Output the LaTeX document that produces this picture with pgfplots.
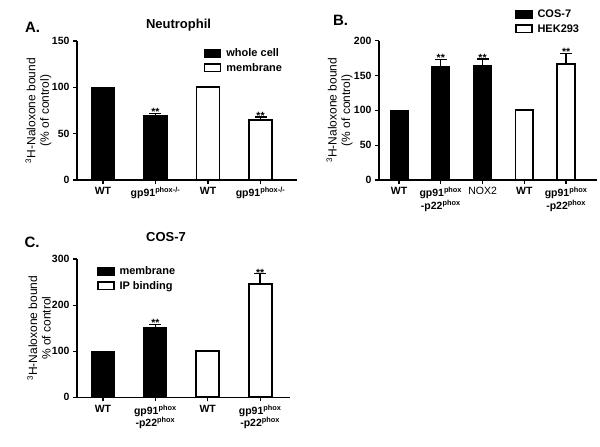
\documentclass[border=0pt]{standalone}
\usepackage{pgfplots}
\pgfplotsset{compat=1.18}
\usepackage{fontspec}
\setmainfont{Liberation Sans}
\tikzset{stars/.style={anchor=base, inner sep=0pt, yshift=-2.5pt, font=\bfseries\fontsize{10.5}{10}\selectfont}}
\begin{document}
\begin{tikzpicture}
\path[use as bounding box] (0pt,0pt) rectangle (600pt,-447pt);
\pgfplotsset{
  myax/.style={
    scale only axis,
    ybar,
    axis x line*=bottom, axis y line*=left,
    axis line style={line width=1.5pt},
    tick align=outside, major tick length=4pt,
    every tick/.style={line width=1.2pt, black},
    ymin=0,
    /pgf/number format/assume math mode=true,
    yticklabel style={font=\bfseries\fontsize{10.5}{10.5}\selectfont},
    xticklabel style={font=\bfseries\fontsize{10.5}{10}\selectfont, align=center},
    every axis y label/.style={rotate=90, anchor=center, align=center, font=\fontsize{12}{13.5}\selectfont},
    legend image code/.code={\draw[#1,line width=1.3pt] (0pt,-3.5pt) rectangle (16pt,4pt);},
    legend style={draw=none, fill=none, font=\bfseries\fontsize{11}{11}\selectfont, anchor=north west, inner sep=0pt, row sep=1pt, column sep=3pt},
    legend cell align=left,
  },
  errb/.style={/pgfplots/error bars/y dir=plus, /pgfplots/error bars/y explicit,
    /pgfplots/error bars/error mark options={line width=1.4pt, mark size=6pt, rotate=90},
    /pgfplots/error bars/error bar style={line width=1.4pt}},
  blk/.style={fill=black, draw=black, line width=1.3pt, bar shift=0pt},
  wht/.style={fill=white, draw=black, line width=1.8pt, bar shift=0pt},
}
% ---------------- Panel A ----------------
\begin{axis}[myax,
  at={(77pt,-180pt)}, anchor=south west,
  width=220pt, height=139pt,
  xmin=-0.495, xmax=3.695, ymax=150,
  bar width=0.438,
  ytick={0,50,100,150},
  xtick={0,1,2,3},
  xticklabels={WT, gp91\textsuperscript{phox-/-}, WT, gp91\textsuperscript{phox-/-}},
  ylabel={\textsuperscript{3}H-Naloxone bound\\(\% of control)},
  ylabel style={at={(axis description cs:-0.175,0.5)}},
  legend style={at={(axis description cs:0.577,0.96)}},
]
\addplot[blk] coordinates {(0,100)};
\addlegendentry{whole cell}
\addplot[wht] coordinates {(2,100)};
\addlegendentry{membrane}
\addplot[blk, errb, forget plot] coordinates {(1,69) +- (0,3)};
\addplot[wht, errb, forget plot] coordinates {(3,64.7) +- (0,3.5)};
\node[stars] at (axis cs:1,72) {**};
\node[stars] at (axis cs:3,68.2) {**};
\end{axis}
% ---------------- Panel B ----------------
\begin{axis}[myax,
  at={(379pt,-180pt)}, anchor=south west,
  width=218pt, height=139.3pt,
  xmin=-0.479, xmax=4.74, ymax=200,
  bar width=0.424,
  ytick={0,50,100,150,200},
  xtick={0,1,2,3,4},
  xticklabels={WT, {gp91\textsuperscript{phox}\\-p22\textsuperscript{phox}}, {\mdseries NOX2}, WT, {gp91\textsuperscript{phox}\\-p22\textsuperscript{phox}}},
  ylabel={\textsuperscript{3}H-Naloxone bound\\(\% of control)},
  ylabel style={at={(axis description cs:-0.181,0.5)}},
  legend style={at={(axis description cs:0.624,1.235)}},
]
\addplot[blk] coordinates {(0,100)};
\addlegendentry{COS-7}
\addplot[wht] coordinates {(3,100)};
\addlegendentry{HEK293}
\addplot[blk, errb, forget plot] coordinates {(1,162.8) +- (0,10.5) (2,164) +- (0,9.7)};
\addplot[wht, errb, forget plot] coordinates {(4,166.5) +- (0,15.5)};
\node[stars] at (axis cs:1,173.3) {**};
\node[stars] at (axis cs:2,173.7) {**};
\node[stars] at (axis cs:4,182) {**};
\end{axis}
% ---------------- Panel C ----------------
\begin{axis}[myax,
  at={(77pt,-397.3pt)}, anchor=south west,
  width=213pt, height=138.3pt,
  xmin=-0.495, xmax=3.57, ymax=300,
  bar width=0.438,
  ytick={0,100,200,300},
  xtick={0,1,2,3},
  xticklabels={WT, {gp91\textsuperscript{phox}\\-p22\textsuperscript{phox}}, WT, {gp91\textsuperscript{phox}\\-p22\textsuperscript{phox}}},
  ylabel={\textsuperscript{3}H-Naloxone bound\\\% of control},
  ylabel style={at={(axis description cs:-0.178,0.5)}},
  legend style={at={(axis description cs:0.094,0.96)}},
]
\addplot[blk] coordinates {(0,100)};
\addlegendentry{membrane}
\addplot[wht] coordinates {(2,100)};
\addlegendentry{IP binding}
\addplot[blk, errb, forget plot] coordinates {(1,152) +- (0,6)};
\addplot[wht, errb, forget plot] coordinates {(3,246) +- (0,22)};
\node[stars] at (axis cs:1,158) {**};
\node[stars] at (axis cs:3,268) {**};
\end{axis}
% ---------------- Titles ----------------
\node[font=\bfseries\fontsize{15}{15}\selectfont] at (32.5pt,-27pt) {A.};
\node[font=\bfseries\fontsize{13}{13}\selectfont] at (178.5pt,-25pt) {Neutrophil};
\node[font=\bfseries\fontsize{15}{15}\selectfont] at (340.5pt,-20pt) {B.};
\node[font=\bfseries\fontsize{15}{15}\selectfont] at (32pt,-242pt) {C.};
\node[font=\bfseries\fontsize{13}{13}\selectfont] at (166pt,-237pt) {COS-7};
\end{tikzpicture}
\end{document}
